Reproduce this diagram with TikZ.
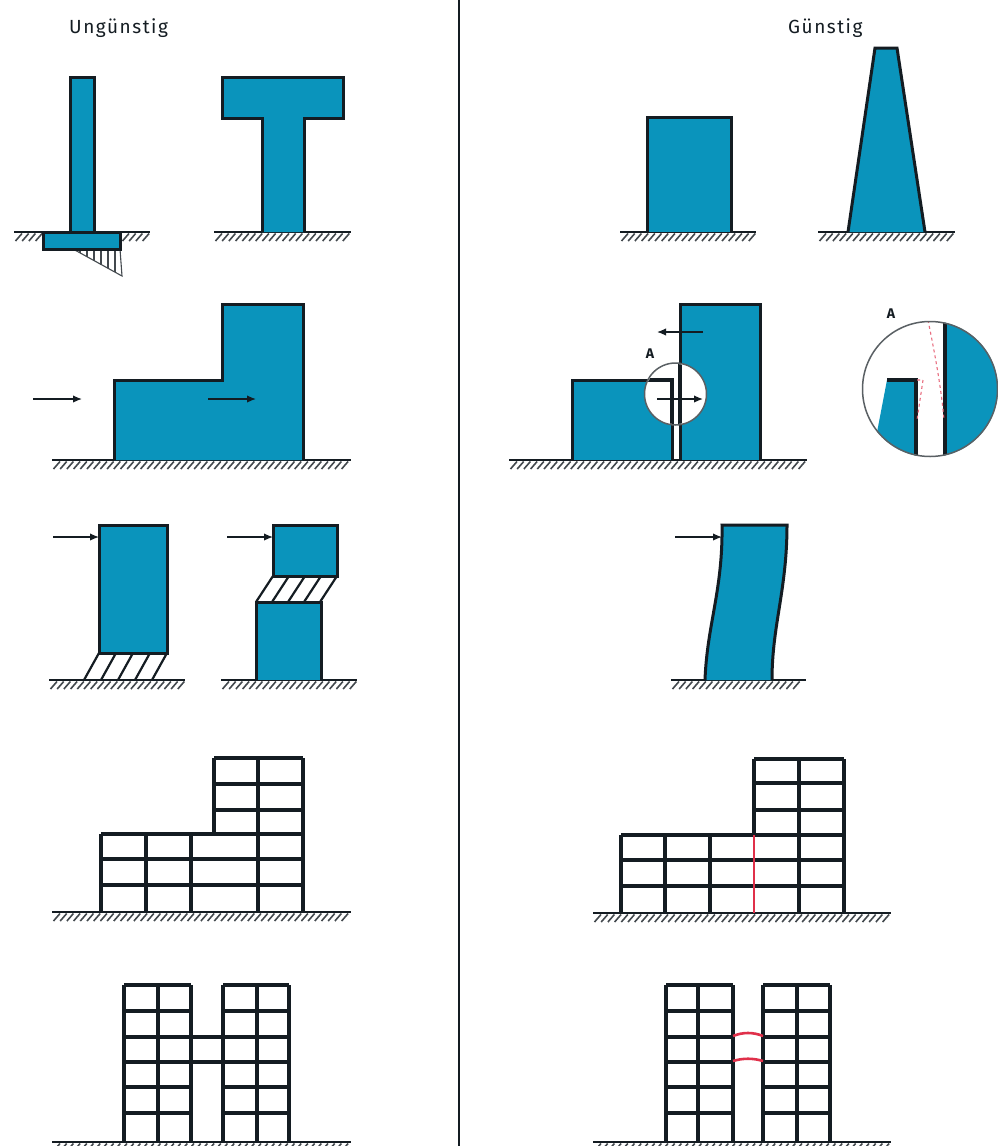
\documentclass[tikz,border=0pt]{standalone}
\usepackage{fontspec}
\setmainfont{Fira Sans}
\usetikzlibrary{arrows.meta}
\definecolor{steel}{HTML}{0A94BC}
\definecolor{inkk}{HTML}{141C22}
\definecolor{redd}{HTML}{E0304A}
\tikzset{
  solid part/.style={fill=steel,draw=inkk,line width=3pt,line join=miter},
  frame line/.style={draw=inkk,line width=3.2pt},
  red line/.style={draw=redd,line width=2.6pt},
  thin link/.style={draw=inkk,line width=2.2pt},
  force/.style={draw=inkk,line width=1.4pt,-{Latex[length=9pt,width=7.5pt]}},
  groundline/.style={draw=inkk,line width=2.2pt},
  hatchline/.style={draw=inkk!80,line width=1.6pt},
  heading/.style={font=\fontsize{19}{21}\selectfont\addfontfeature{LetterSpace=8},text=inkk,inner sep=0pt},
  letter/.style={font=\fontsize{14}{15}\selectfont\bfseries,text=inkk,inner sep=0pt},
}
% ground: x1, x2, y
\newcommand{\gnd}[3]{%
  \draw[groundline] (#1,#3) -- (#2,#3);
  \pgfmathsetmacro{\gstart}{#1+8}\pgfmathsetmacro{\gnext}{#1+14.7}
  \foreach \hx in {\gstart,\gnext,...,#2}{\draw[hatchline] (\hx,#3+1.5) -- (\hx-6.5,#3+9);}
}
\newcommand{\gridh}[3]{\foreach \gy in {#3}{\draw[frame line] (#1,\gy) -- (#2,\gy);}}
\newcommand{\gridv}[3]{\foreach \gx in {#3}{\draw[frame line] (\gx,#1) -- (\gx,#2);}}
\begin{document}
\begin{tikzpicture}[x=1pt,y=-1pt]
\useasboundingbox (0,0) rectangle (997,1146);
\fill[white] (0,0) rectangle (997,1146);
% divider
\draw[draw=inkk,line width=1.8pt] (459,0) -- (459,1146);
\node[heading,anchor=base west] (titleA) at (69,33) {Ungünstig};
\node[heading,anchor=base west] (titleB) at (788,33) {Günstig};

% ---- row 1 left
\gnd{14}{43}{232}\gnd{121}{150}{232}
\draw[draw=inkk!80,line width=1.1pt] (73,249) -- (122,276) -- (120,249);
\foreach \hx/\hy in {80/253,87/257,94/261,101/265,108/268,115/272}{\draw[draw=inkk!80,line width=1.1pt] (\hx,249) -- (\hx,\hy);}
\draw[solid part] (70,232) rectangle (94,77);
\draw[solid part] (43,232) rectangle (120,249);
\gnd{214}{351}{232}
\draw[solid part] (262,232) -- (262,118) -- (222,118) -- (222,77) -- (343,77) -- (343,118) -- (304,118) -- (304,232);
% ---- row 1 right
\gnd{620}{756}{232}
\draw[solid part] (647,232) -- (647,117) -- (731,117) -- (731,232);
\gnd{818}{955}{232}
\draw[solid part] (848,232) -- (875,48) -- (897,48) -- (925,232);

% ---- row 2 left
\gnd{52}{351}{460}
\draw[solid part] (114,460) -- (114,380) -- (222,380) -- (222,304) -- (303,304) -- (303,460);
\draw[force] (33,399) -- (82,399);
\draw[force] (208,399) -- (256,399);
% ---- row 2 right
\gnd{509}{807}{460}
\draw[solid part] (572,460) -- (572,380) -- (672,380) -- (672,460);
\draw[solid part] (680,460) -- (680,304) -- (760,304) -- (760,460);
\draw[force] (703,332) -- (657,332);
\draw[draw=inkk!70,line width=1.5pt,fill=white] (675.5,394) circle (31);
\begin{scope}
\clip (675.5,394) circle (30);
\draw[frame line] (640,380) -- (672,380) -- (672,430);
\draw[frame line] (680,360) -- (680,430);
\end{scope}
\draw[force] (657,399) -- (703,399);
\node[letter] (mark1) at (650,354) {A};
% detail circle
\begin{scope}
\clip (930,389) circle (68);
\fill[white] (860,320) rectangle (997,460);
\fill[steel] (945,315) rectangle (1000,465);
\fill[steel] (887,380) -- (916,380) -- (916,460) -- (872,460) -- (878,427) -- cycle;
\draw[frame line] (887,380) -- (916,380) -- (916,465);
\draw[frame line] (945,315) -- (945,465);
\draw[draw=redd!70,line width=1.1pt,dashed] (928,320) .. controls (934,350) and (941,385) .. (944,420);
\draw[draw=redd!70,line width=1.1pt,dashed] (917,380) -- (923,380) -- (917,420);
\end{scope}
\draw[draw=inkk!70,line width=1.5pt] (930,389) circle (67.5);
\node[letter] (mark2) at (891,314) {A};

% ---- row 3 left
\gnd{49}{185}{680}
\foreach \sx in {0,17,34,51,68}{\draw[thin link] (99+\sx,653) -- (84+\sx,680);}
\draw[solid part] (99,653) rectangle (167,525);
\draw[force] (53,537) -- (99,537);
\gnd{221}{357}{680}
\foreach \sx in {0,16,32,48,64}{\draw[thin link] (273+\sx,576) -- (256+\sx,602);}
\draw[solid part] (273,576) rectangle (337,525);
\draw[solid part] (256,680) -- (256,602) -- (321,602) -- (321,680);
\draw[force] (227,537) -- (273,537);
% ---- row 3 right
\gnd{671}{806}{680}
\draw[solid part] (705,680) .. controls (707,625) and (723,590) .. (722,525) -- (787,525) .. controls (787,590) and (772,625) .. (772,680);
\draw[force] (675,537) -- (722,537);

% ---- row 4 left
\gnd{52}{351}{912}
\gridv{834}{912}{101,146,191}
\gridv{758}{834}{214}
\gridv{758}{912}{258,303}
\gridh{214}{303}{758,784,810}
\gridh{101}{303}{834,859,885}
% ---- row 4 right
\gnd{593}{891}{913}
\gridv{835}{913}{621,665,710}
\gridv{759}{835}{754}
\gridv{759}{913}{799,844}
\gridh{754}{844}{759,783,810}
\gridh{621}{844}{835,860,886}
\draw[red line] (754,835) -- (754,913);

% ---- row 5 left
\gnd{52}{351}{1142}
\gridv{985}{1142}{124,158,191,223,257,289}
\gridh{124}{191}{985,1011,1037,1062,1087,1113}
\gridh{223}{289}{985,1011,1037,1062,1087,1113}
\gridh{191}{223}{1037,1062}
% ---- row 5 right
\gnd{593}{891}{1142}
\gridv{985}{1142}{666,698,733,763,797,830}
\gridh{666}{733}{985,1011,1037,1062,1087,1113}
\gridh{763}{830}{985,1011,1037,1062,1087,1113}
\draw[red line] (733,1036) .. controls (743,1032) and (753,1032) .. (763,1036);
\draw[red line] (733,1061) .. controls (743,1058) and (753,1058) .. (763,1061);
\end{tikzpicture}
\end{document}
